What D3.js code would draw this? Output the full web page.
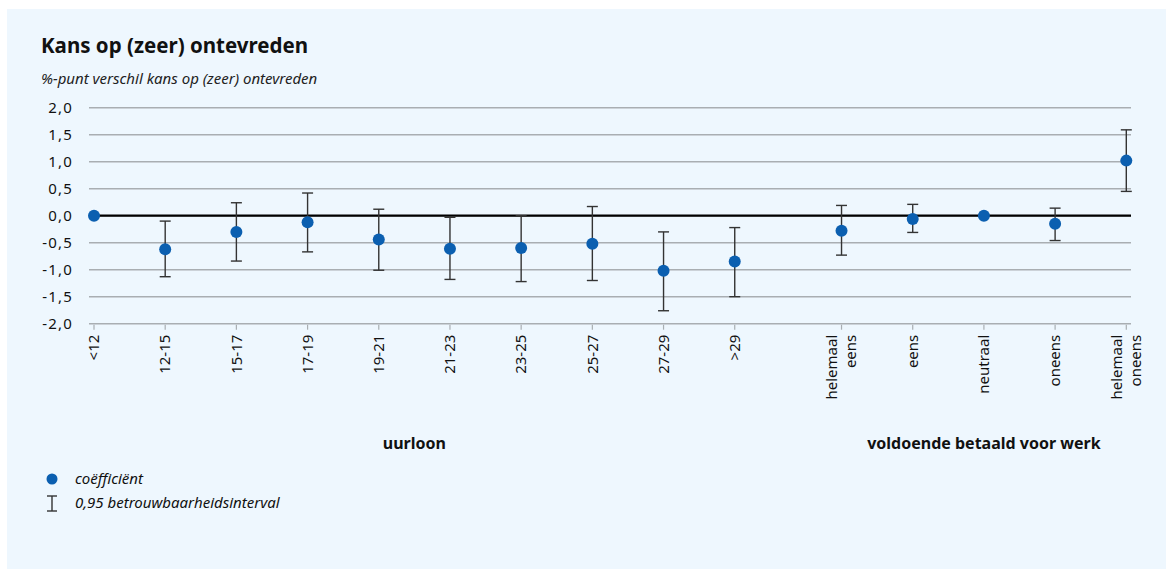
<!DOCTYPE html>
<html><head><meta charset="utf-8">
<script src="https://cdn.jsdelivr.net/npm/d3@7"></script>
<style>
html,body{margin:0;padding:0;background:#fff;}
svg{display:block;font-family:"Noto Sans",sans-serif;}
</style></head>
<body><svg id="c" width="1166" height="569"></svg>
<script>
// ---- data ----
const categories = ["<12","12-15","15-17","17-19","19-21","21-23","23-25","25-27","27-29",">29",
  "helemaal eens","eens","neutraal","oneens","helemaal oneens"];
const groups = ["uurloon","uurloon","uurloon","uurloon","uurloon","uurloon","uurloon","uurloon","uurloon","uurloon",
  "voldoende betaald voor werk","voldoende betaald voor werk","voldoende betaald voor werk","voldoende betaald voor werk","voldoende betaald voor werk"];
const coef  = [0, -0.62, -0.30, -0.12, -0.44, -0.61, -0.60, -0.52, -1.02, -0.85, -0.28, -0.06, 0, -0.15, 1.02];
const lower = [null, -1.13, -0.84, -0.67, -1.01, -1.18, -1.22, -1.20, -1.76, -1.50, -0.73, -0.31, null, -0.46, 0.45];
const upper = [null, -0.10, 0.24, 0.42, 0.12, -0.03, 0.00, 0.17, -0.30, -0.22, 0.19, 0.21, null, 0.14, 1.59];
const yTicks = [2.0, 1.5, 1.0, 0.5, 0.0, -0.5, -1.0, -1.5, -2.0];
const title = "Kans op (zeer) ontevreden";
const subtitle = "%-punt verschil kans op (zeer) ontevreden";
const legendLabels = ["coëfficiënt", "0,95 betrouwbaarheidsinterval"];

// ---- layout ----
const svg = d3.select("#c");
svg.append("rect").attr("x",7).attr("y",9).attr("width",1166-7).attr("height",569-9).attr("fill","#eef7fe");

const fmt = v => d3.format(".1f")(v).replace(".", ",").replace("−","-");
const groupNames = Array.from(new Set(groups));
// position index: each group separated by an extra half step
const pos = categories.map((c,i) => i + groupNames.indexOf(groups[i]) * 0.5);
const x = d3.scaleLinear().domain([0, d3.max(pos)]).range([94, 1126.3]);
const y = d3.scaleLinear().domain([-2, 2]).range([323.7, 107.7]);

const data = categories.map((c,i) => ({c, g:groups[i], p:pos[i], v:coef[i], lo:lower[i], hi:upper[i]}));

svg.append("text").attr("x",41).attr("y",53).attr("font-size",20.5).attr("font-weight","bold").attr("fill","#111").text(title);
svg.append("text").attr("x",41).attr("y",84).attr("font-size",15).attr("font-style","italic").attr("fill","#222").text(subtitle);

// gridlines
const gx0 = 89, gx1 = 1131;
svg.append("g").selectAll("line").data(yTicks).join("line")
  .attr("x1",gx0).attr("x2",gx1).attr("y1",d=>y(d)).attr("y2",d=>y(d))
  .attr("stroke","#a9aeb2").attr("stroke-width",1.5);
// y labels
svg.append("g").selectAll("text").data(yTicks).join("text")
  .attr("x",73).attr("y",d=>y(d)).attr("dy","0.35em").attr("text-anchor","end")
  .attr("font-size",15).attr("letter-spacing",1.2).attr("fill","#111").text(fmt);

// x ticks
const xt = svg.append("g");
xt.selectAll("line").data(data).join("line")
  .attr("x1",d=>x(d.p)).attr("x2",d=>x(d.p)).attr("y1",y(-2)+1).attr("y2",y(-2)+6)
  .attr("stroke","#a9aeb2").attr("stroke-width",1.2);
const lab = xt.selectAll("text").data(data).join("text")
  .attr("transform",d=>`translate(${x(d.p)},${y(-2)+11}) rotate(-90)`)
  .attr("text-anchor","end").attr("font-size",15).attr("fill","#111");
lab.each(function(d){
  const words = d.c.split(" ");
  const el = d3.select(this);
  const n = words.length;
  words.forEach((w,k)=>{
    el.append("tspan").attr("x",0).attr("y", (k - (n-1)/2)*19).attr("dy","0.35em").text(w);
  });
});

// group titles
groupNames.forEach(gn=>{
  const ps = data.filter(d=>d.g===gn).map(d=>x(d.p));
  svg.append("text").attr("x",(d3.min(ps)+d3.max(ps))/2).attr("y",449)
    .attr("text-anchor","middle").attr("font-size",16).attr("font-weight","bold").attr("fill","#111").text(gn);
});

// zero line
svg.append("line").attr("x1",gx0).attr("x2",gx1).attr("y1",y(0)).attr("y2",y(0))
  .attr("stroke","#000").attr("stroke-width",2.2);

// error bars
const eb = svg.append("g").attr("stroke","#333").attr("stroke-width",1.4).attr("fill","none");
const ed = data.filter(d=>d.lo!==null);
eb.selectAll(".v").data(ed).join("line").attr("x1",d=>x(d.p)).attr("x2",d=>x(d.p)).attr("y1",d=>y(d.lo)).attr("y2",d=>y(d.hi));
eb.selectAll(".t").data(ed).join("line").attr("x1",d=>x(d.p)-5.5).attr("x2",d=>x(d.p)+5.5).attr("y1",d=>y(d.hi)).attr("y2",d=>y(d.hi));
eb.selectAll(".b").data(ed).join("line").attr("x1",d=>x(d.p)-5.5).attr("x2",d=>x(d.p)+5.5).attr("y1",d=>y(d.lo)).attr("y2",d=>y(d.lo));

// points
svg.append("g").selectAll("circle").data(data).join("circle")
  .attr("cx",d=>x(d.p)).attr("cy",d=>y(d.v)).attr("r",6).attr("fill","#0b5fb0");

// legend
svg.append("circle").attr("cx",52).attr("cy",479).attr("r",5.5).attr("fill","#0b5fb0");
const lg = svg.append("g").attr("stroke","#333").attr("stroke-width",1.4);
lg.append("line").attr("x1",52).attr("x2",52).attr("y1",496).attr("y2",511);
lg.append("line").attr("x1",47).attr("x2",57).attr("y1",496).attr("y2",496);
lg.append("line").attr("x1",47).attr("x2",57).attr("y1",511).attr("y2",511);
svg.append("text").attr("x",75).attr("y",479).attr("dy","0.35em").attr("font-size",15).attr("font-style","italic").attr("fill","#111").text(legendLabels[0]);
svg.append("text").attr("x",75).attr("y",503).attr("dy","0.35em").attr("font-size",15).attr("font-style","italic").attr("fill","#111").text(legendLabels[1]);
</script></body></html>
